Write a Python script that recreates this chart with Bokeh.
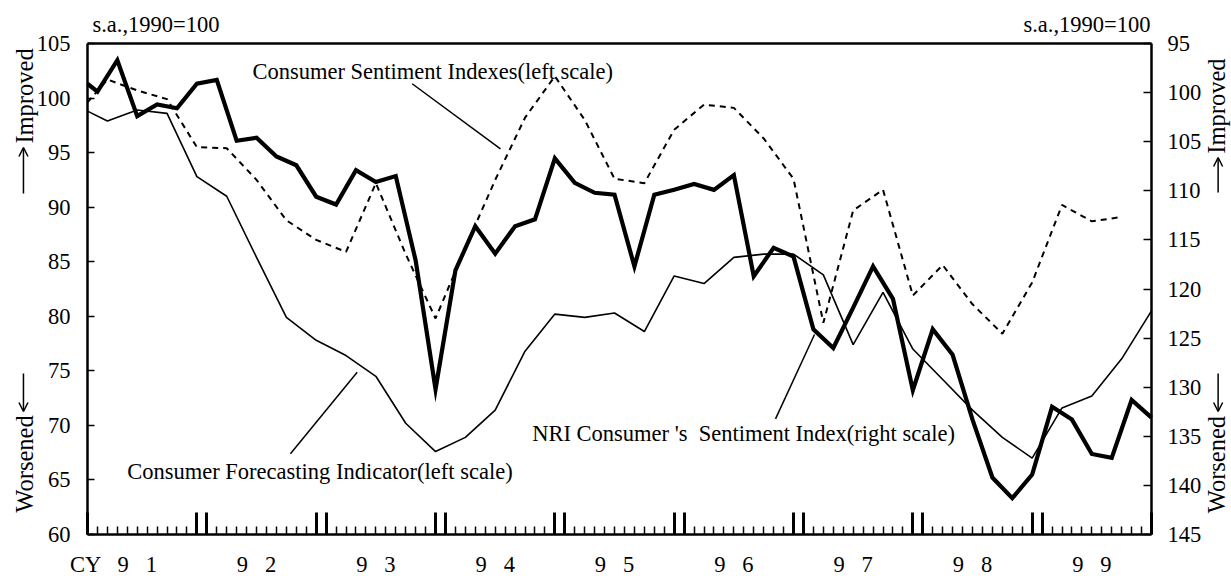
import math
from bokeh.plotting import figure
from bokeh.models import Range1d, LinearAxis, FixedTicker, Label, Arrow, OpenHead
from bokeh.embed import file_html
from bokeh.resources import INLINE

# ---------------- data ----------------
# month index: 0 = Jan 1991 ... 107 = Dec 1999
nri_months = [0] + list(range(1, 108, 2))
nri_values = [99.1, 99.9, 96.7, 102.4, 101.2, 101.6, 99.1, 98.7, 104.9, 104.6,
              106.5, 107.4, 110.6, 111.4, 107.9, 109.1, 108.5, 117.1, 130.2, 118.1,
              113.6, 116.4, 113.6, 112.9, 106.7, 109.2, 110.2, 110.4, 117.7, 110.4,
              109.9, 109.3, 109.9, 108.4, 118.7, 115.8, 116.7, 124.1, 126.0, 121.9,
              117.7, 121.0, 130.3, 124.1, 126.7, 133.3, 139.2, 141.3, 138.9, 132.0,
              133.3, 136.8, 137.2, 131.3, 133.1]

csi_months = [0] + list(range(2, 105, 3))
csi_values = [99.6, 101.7, 100.7, 99.9, 95.5, 95.4, 92.5, 88.8, 87.0, 85.9,
              92.2, 85.7, 79.8, 86.3, 92.5, 98.2, 102.0, 98.0, 92.6, 92.2,
              97.1, 99.4, 99.1, 96.3, 92.6, 79.4, 89.7, 91.6, 81.9, 84.7,
              81.1, 78.4, 83.1, 90.2, 88.7, 89.1]

cfi_months = [0] + list(range(2, 108, 3))
cfi_values = [98.8, 97.9, 98.9, 98.6, 92.8, 91.0, 85.4, 79.9, 77.8, 76.4,
              74.5, 70.2, 67.6, 68.9, 71.4, 76.8, 80.2, 79.9, 80.3, 78.6,
              83.7, 83.0, 85.4, 85.7, 85.7, 83.8, 77.4, 82.2, 77.0, 74.2,
              71.4, 68.9, 67.0, 71.6, 72.7, 76.1, 80.5]

left_ticks = [60, 65, 70, 75, 80, 85, 90, 95, 100, 105]
right_ticks = [95, 100, 105, 110, 115, 120, 125, 130, 135, 140, 145]

year_tick_months = [0, 11, 12, 23, 24, 35, 36, 47, 48, 59, 60, 71, 72, 83, 84, 95, 96, 107]
month_ticks = list(range(0, 108))
year_label_months = [-0.2, 5, 17, 29, 41, 53, 65, 77, 89, 101]
year_labels = ["CY", "9\u00a0\u00a0\u00a01", "9\u00a0\u00a0\u00a02", "9\u00a0\u00a0\u00a03",
               "9\u00a0\u00a0\u00a04", "9\u00a0\u00a0\u00a05", "9\u00a0\u00a0\u00a06",
               "9\u00a0\u00a0\u00a07", "9\u00a0\u00a0\u00a08", "9\u00a0\u00a0\u00a09"]

FONT = "Liberation Serif"
FS = "22.5px"
FS_ROT = "24.5px"

# ---------------- layout geometry ----------------
W, H = 1231, 576
BOX_L, BOX_R, BOX_T, BOX_B = 87, 1151, 43, 534      # plot box inside the canvas (px)
X0, X1 = 0, 107                                    # months shown in the box
L0, L1 = 60, 105                                   # left scale
R0, R1 = 145, 95                                   # right scale (inverted)
pxm = (BOX_R - BOX_L) / (X1 - X0)
pyl = (BOX_B - BOX_T) / (L1 - L0)
pyr = (BOX_B - BOX_T) / (R0 - R1)

x_range = Range1d(X0 - BOX_L / pxm, X1 + (W - BOX_R) / pxm)
y_range = Range1d(L0 - (H - BOX_B) / pyl, L1 + BOX_T / pyl)

p = figure(width=W, height=H, min_border=0, x_range=x_range, y_range=y_range,
           x_axis_type=None, y_axis_type=None,
           output_backend="svg", toolbar_location=None)
p.extra_y_ranges = {"nri": Range1d(R0 + (H - BOX_B) / pyr, R1 - BOX_T / pyr)}
p.outline_line_color = None
p.xgrid.visible = False
p.ygrid.visible = False
p.background_fill_color = "white"
p.border_fill_color = "white"

# bottom axis: ticks
xa = LinearAxis(fixed_location=L0, bounds=(X0, X1),
                ticker=FixedTicker(ticks=year_tick_months, minor_ticks=month_ticks))
xa.major_tick_in = 22
xa.major_tick_out = 0
xa.major_tick_line_width = 3
xa.minor_tick_in = 8
xa.minor_tick_out = 0
xa.minor_tick_line_width = 1.5
xa.axis_line_width = 2.5
xa.major_label_text_font_size = "0px"
xa.major_label_overrides = {m: "" for m in year_tick_months}
p.add_layout(xa, "below")

# bottom axis: year labels
xl = LinearAxis(fixed_location=L0, bounds=(-1, X1),
                ticker=FixedTicker(ticks=year_label_months, minor_ticks=[]))
xl.axis_line_color = None
xl.major_tick_line_color = None
xl.minor_tick_line_color = None
xl.major_tick_in = 0
xl.major_tick_out = 0
xl.minor_tick_in = 0
xl.minor_tick_out = 0
xl.major_label_overrides = dict(zip(year_label_months, year_labels))
xl.major_label_text_font = FONT
xl.major_label_text_font_size = FS
xl.major_label_text_color = "black"
xl.major_label_standoff = 17
p.add_layout(xl, "below")

# top border line
xt = LinearAxis(fixed_location=L1, bounds=(X0, X1), ticker=FixedTicker(ticks=[], minor_ticks=[]))
xt.axis_line_width = 2.5
xt.major_label_text_font_size = "0px"
p.add_layout(xt, "above")

# left axis
ya = LinearAxis(fixed_location=X0, bounds=(L0, L1), ticker=FixedTicker(ticks=left_ticks, minor_ticks=[]))
ya.major_tick_in = 7
ya.major_tick_out = 0
ya.major_tick_line_width = 1.5
ya.minor_tick_line_color = None
ya.axis_line_width = 2.5
ya.major_label_text_font = FONT
ya.major_label_text_font_size = FS
ya.major_label_text_color = "black"
ya.major_label_standoff = 17
p.add_layout(ya, "left")

# right axis
ra = LinearAxis(y_range_name="nri", fixed_location=X1, bounds=(R1, R0),
                ticker=FixedTicker(ticks=right_ticks, minor_ticks=[]))
ra.major_tick_in = 8
ra.major_tick_out = 0
ra.major_tick_line_width = 1.5
ra.minor_tick_line_color = None
ra.axis_line_width = 2.5
ra.major_label_text_font = FONT
ra.major_label_text_font_size = FS
ra.major_label_text_color = "black"
ra.major_label_standoff = 16
p.add_layout(ra, "right")

# series
p.line(cfi_months, cfi_values, line_color="black", line_width=1.6)
p.line(csi_months, csi_values, line_color="black", line_width=2, line_dash="6 5")
p.line(nri_months, nri_values, y_range_name="nri", line_color="black", line_width=4.2,
       line_join="miter")

def lab(x, y, text, align="left", angle=0.0, size=FS):
    p.add_layout(Label(x=x, y=y, text=text, angle=angle, text_font=FONT, text_font_size=size,
                       text_color="black", text_align=align, text_baseline="middle"))

def arrow(x0, y0, x1, y1, head=True):
    p.add_layout(Arrow(x_start=x0, y_start=y0, x_end=x1, y_end=y1,
                       end=OpenHead(size=9, line_width=1.5, line_color="black") if head else None,
                       line_color="black", line_width=1.5))

# unit notes
lab(0.5, 106.74, "s.a.,1990=100")
lab(106.9, 106.74, "s.a.,1990=100", align="right")

# direction notes (rotated) with arrows
lab(-6.34, 100.19, "Improved", align="center", angle=math.pi / 2, size=FS_ROT)
lab(-6.34, 66.46, "Worsened", align="center", angle=math.pi / 2, size=FS_ROT)
lab(113.55, 99.27, "Improved", align="center", angle=math.pi / 2, size=FS_ROT)
lab(113.55, 66.41, "Worsened", align="center", angle=math.pi / 2, size=FS_ROT)
arrow(-6.44, 91.25, -6.44, 95.47)
arrow(-6.44, 74.76, -6.44, 71.27)
arrow(113.7, 91.34, 113.7, 94.55)
arrow(113.7, 74.76, 113.7, 71.27)

# series annotations
lab(16.59, 102.43, "Consumer Sentiment Indexes(left scale)")
lab(3.99, 65.77, "Consumer Forecasting Indicator(left scale)")
lab(44.72, 69.26, "NRI Consumer 's\u00a0\u00a0Sentiment Index(right scale)")

for x0, y0, x1, y1 in [(32.65, 101.31, 41.53, 95.35), (20.41, 67.40, 27.12, 74.87),
                       (69.19, 70.60, 73.11, 78.33)]:
    arrow(x0, y0, x1, y1, head=False)

open("out.html", "w").write(file_html(p, INLINE))
